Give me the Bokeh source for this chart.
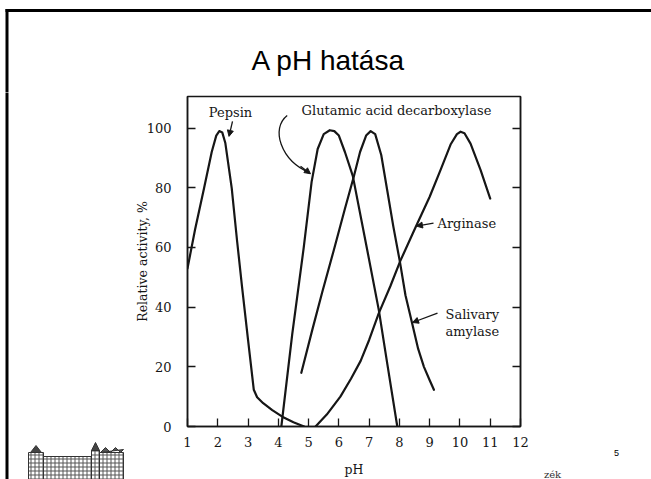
from bokeh.plotting import figure
from bokeh.layouts import column, row
from bokeh.models import Range1d, LinearAxis, FixedTicker, Arrow, NormalHead
from bokeh.core.properties import value
from bokeh.embed import file_html
from bokeh.resources import INLINE

# ---------------- data ----------------
title_text = "A pH hatása"
x_label = "pH"
y_label = "Relative activity, %"
x_ticks = [1, 2, 3, 4, 5, 6, 7, 8, 9, 10, 11, 12]
y_ticks = [0, 20, 40, 60, 80, 100]
page_number = "5"
footer_text = "zék"

pepsin_ph = [1.0, 1.25, 1.55, 1.8, 1.95, 2.05, 2.15, 2.25, 2.46, 2.64, 2.8, 3.0, 3.19,
             3.3, 3.5, 3.8, 4.13, 4.5, 4.85]
pepsin_act = [53, 66, 80, 92, 97.5, 99, 98.5, 95, 80, 62, 47, 29, 12.3,
              9.8, 7.8, 5.5, 3.3, 1.4, 0]

gad_ph = [4.1, 4.46, 4.84, 5.1, 5.3, 5.5, 5.7, 5.85, 6.0, 6.2, 6.46, 6.94, 7.32, 7.6, 7.93]
gad_act = [0, 31, 60, 82, 93, 98, 99.3, 99, 97.5, 92, 84, 59, 39, 21, 0]

amylase_ph = [4.76, 5.12, 5.45, 5.83, 6.2, 6.49, 6.7, 6.9, 7.05, 7.2, 7.4, 7.6, 7.8,
              8.02, 8.2, 8.42, 8.62, 8.81, 9.0, 9.14]
amylase_act = [18, 32.3, 45, 59, 73, 83.6, 92, 97.5, 99, 98, 91, 79, 67,
               55, 44, 34.6, 26, 20, 15.5, 12.3]

arginase_ph = [5.23, 5.6, 6.05, 6.4, 6.72, 7.0, 7.32, 7.7, 8.03, 8.5, 9.0, 9.36, 9.69,
               9.9, 10.02, 10.15, 10.35, 10.68, 11.0]
arginase_act = [0, 4, 10, 16, 22, 29, 38, 47, 55.5, 66, 77, 86, 94.5,
                98, 98.8, 98.3, 94.8, 86, 76.4]

# ------------- page geometry (pixels) -------------
W, H = 651, 479
TOP_H = 92                 # height of the title strip
LEFT_W = 130               # width of the left strip (border + logo)
RIGHT_X = 530              # page x where the right strip starts
FL, FR, FT, FB = 187, 520, 96, 427      # chart frame edges in page pixels
Y_TOP = 110.6
KX = (FR - FL) / 11.0
KY = (FB - FT) / Y_TOP


def dx(px):      # page x -> chart data x
    return 1 + (px - FL) / KX


def dy(py):      # page y -> chart data y
    return (FB - py) / KY


INK = "#161616"
SERIF = "DejaVu Serif"


def canvas_fig(w, h):
    """A figure whose frame fills the canvas; data units = pixels, y downwards."""
    f = figure(width=w, height=h, output_backend="svg", toolbar_location=None,
               title=None, x_axis_type=None, y_axis_type=None,
               x_range=Range1d(0, w), y_range=Range1d(h, 0),
               min_border_left=0, min_border_right=0, min_border_top=0,
               min_border_bottom=0)
    f.frame_align = False
    f.grid.visible = False
    f.outline_line_color = None
    f.background_fill_color = "white"
    f.border_fill_color = "white"
    return f


# ---------------- top strip: slide border + title ----------------
top = canvas_fig(W, TOP_H)
top.line([6.5, 6.5], [8.5, TOP_H + 1], line_color="black", line_width=3)
top.line([5, W + 2], [10, 10], line_color="black", line_width=3)
top.text(x=[328], y=[60], text=[title_text], text_font=value("Liberation Sans"),
         text_font_size="28px", text_align="center", text_baseline="alphabetic",
         text_color="black")

# ---------------- left strip: border + logo ----------------
LH = H - TOP_H
left = canvas_fig(LEFT_W, LH)
left.line([6.5, 6.5], [-1, LH + 1], line_color="black", line_width=3)
oy = TOP_H
blocks_l = [28, 43, 91, 99]
blocks_r = [43, 91, 99, 123]
blocks_t = [452, 456, 450, 452]
left.quad(left=blocks_l, right=blocks_r, top=[t - oy for t in blocks_t],
          bottom=[LH + 2] * 4, fill_color="white", line_color="#333", line_width=1,
          hatch_pattern="+", hatch_color="#555", hatch_scale=4, hatch_weight=1)
left.patch([30, 35.5, 41], [452 - oy, 445 - oy, 452 - oy], fill_color="#444",
           line_color="#333")
left.patch([91, 95, 99], [450 - oy, 442 - oy, 450 - oy], fill_color="#444",
           line_color="#333")
left.patch([100, 105, 110, 115, 120, 123], [452 - oy, 447 - oy, 452 - oy, 447 - oy,
                                             452 - oy, 449 - oy],
           fill_color="#555", line_color="#333")

# ---------------- chart ----------------
CW = RIGHT_X - LEFT_W
p = figure(width=CW, height=LH, output_backend="svg", toolbar_location=None,
           title=None, x_range=Range1d(1, 12), y_range=Range1d(0, Y_TOP),
           min_border_left=FL - LEFT_W, min_border_right=RIGHT_X - FR,
           min_border_top=FT - TOP_H, min_border_bottom=H - FB,
           x_axis_label=x_label, y_axis_label=y_label)
p.frame_align = False
p.grid.visible = False
p.background_fill_color = "white"
p.border_fill_color = "white"
p.outline_line_color = INK
p.outline_line_width = 1.5

for ax in (p.xaxis[0], p.yaxis[0]):
    ax.major_tick_in = 8
    ax.major_tick_out = 0
    ax.minor_tick_in = 0
    ax.minor_tick_out = 0
    ax.axis_line_color = INK
    ax.axis_line_width = 1.5
    ax.major_tick_line_color = INK
    ax.major_tick_line_width = 1.3
    ax.major_label_text_font = SERIF
    ax.major_label_text_font_size = "13px"
    ax.major_label_text_color = INK
    ax.axis_label_text_font = SERIF
    ax.axis_label_text_font_size = "12.5px"
    ax.axis_label_text_font_style = "normal"
    ax.axis_label_text_color = INK

p.xaxis[0].ticker = FixedTicker(ticks=x_ticks)
p.yaxis[0].ticker = FixedTicker(ticks=y_ticks)
p.xaxis[0].major_label_standoff = 10
p.xaxis[0].axis_label_standoff = 12
p.yaxis[0].major_label_standoff = 16
p.yaxis[0].axis_label_standoff = -6

right_ax = LinearAxis(ticker=FixedTicker(ticks=y_ticks), major_tick_in=8, major_tick_out=0,
                      minor_tick_in=0, minor_tick_out=0, axis_line_color=INK,
                      axis_line_width=1.5, major_tick_line_color=INK,
                      major_tick_line_width=1.3, major_label_standoff=0,
                      major_label_overrides={t: "" for t in y_ticks})
p.add_layout(right_ax, "right")

for xs, ys in ((pepsin_ph, pepsin_act), (gad_ph, gad_act),
               (amylase_ph, amylase_act), (arginase_ph, arginase_act)):
    p.line(xs, ys, line_color=INK, line_width=2.2, line_join="round", line_cap="round")

txt = dict(text_font=value(SERIF), text_font_size="13px", text_baseline="middle",
           text_color=INK)
p.text(x=[dx(230)], y=[dy(111.7)], text=["Pepsin"], text_align="center", **txt)
p.text(x=[dx(396)], y=[dy(110)], text=["Glutamic acid decarboxylase"],
       text_align="center", **txt)
p.text(x=[dx(437)], y=[dy(223.3)], text=["Arginase"], text_align="left", **txt)
p.text(x=[dx(445), dx(445)], y=[dy(315), dy(331.7)], text=["Salivary", "amylase"],
       text_align="left", **txt)

head = dict(size=6, fill_color=INK, line_color=INK)
p.add_layout(Arrow(x_start=dx(232), y_start=dy(121), x_end=dx(228.5), y_end=dy(136),
                   line_color=INK, line_width=1.3, end=NormalHead(**head)))
p.bezier(x0=[dx(286.7)], y0=[dy(115)], x1=[dx(309)], y1=[dy(172.5)],
         cx0=[dx(270)], cy0=[dy(128)], cx1=[dx(280)], cy1=[dy(160)],
         line_color=INK, line_width=1.3)
p.add_layout(Arrow(x_start=dx(300), y_start=dy(166), x_end=dx(310), y_end=dy(173.5),
                   line_color=INK, line_width=1.3, end=NormalHead(**head)))
p.add_layout(Arrow(x_start=dx(433), y_start=dy(223), x_end=dx(416), y_end=dy(226),
                   line_color=INK, line_width=1.3, end=NormalHead(**head)))
p.add_layout(Arrow(x_start=dx(437), y_start=dy(313.3), x_end=dx(412), y_end=dy(322.7),
                   line_color=INK, line_width=1.3, end=NormalHead(**head)))

# ---------------- right strip: page number + footer fragment ----------------
RW = W - RIGHT_X
right = canvas_fig(RW, LH)
right.text(x=[616 - RIGHT_X], y=[452 - TOP_H], text=[page_number],
           text_font=value("Liberation Sans"), text_font_size="9px", text_align="center",
           text_baseline="middle", text_color="black")
right.text(x=[552 - RIGHT_X], y=[474 - TOP_H], text=[footer_text], text_font=value(SERIF),
           text_font_size="10px", text_align="center", text_baseline="middle",
           text_color="#333")

layout = column(top, row(left, p, right, spacing=0), spacing=0)
open("out.html", "w").write(file_html(layout, INLINE))
